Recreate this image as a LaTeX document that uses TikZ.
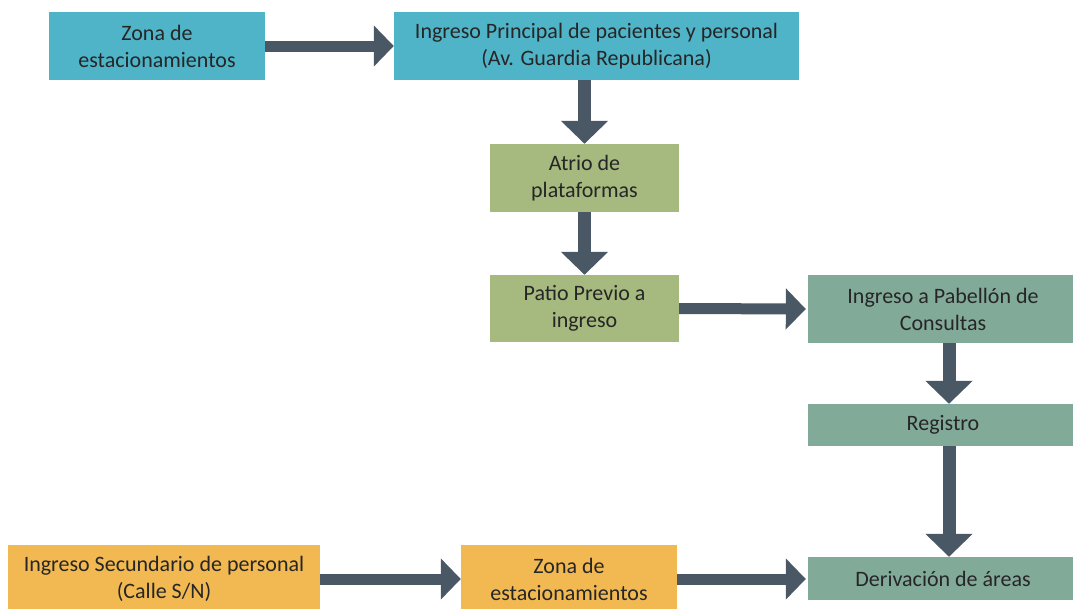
\documentclass[tikz,border=0pt]{standalone}
\usepackage{fontspec}
\setmainfont{Carlito}
\usepackage{tikz}
\usetikzlibrary{positioning, arrows.meta, calc}

\definecolor{cyanbox}{RGB}{79,180,200}
\definecolor{olivebox}{RGB}{166,185,127}
\definecolor{tealbox}{RGB}{130,170,153}
\definecolor{orangebox}{RGB}{242,185,82}
\definecolor{arrowgray}{RGB}{74,88,101}
\definecolor{textgray}{RGB}{38,38,38}

\tikzset{
    box/.style={rectangle, draw=none, align=center, text=textgray,
        font=\fontsize{22}{27}\selectfont, inner sep=0pt},
    flow/.style={draw=arrowgray, line width=11pt,
        -{Triangle[width=40pt, length=20pt]}},
    flowdown/.style={draw=arrowgray, line width=13pt,
        -{Triangle[width=46pt, length=23pt]}}
}

\begin{document}
\begin{tikzpicture}[x=1pt, y=-1pt]
    \useasboundingbox (0,0) rectangle (1073,608);

    % boxes, placed by their centres
    \node[box, fill=cyanbox, minimum width=216, minimum height=68] (zona1) at (157,46) {Zona de\\estacionamientos};
    \node[box, fill=cyanbox, minimum width=405, minimum height=68] (ingreso) at (596.5,46) {Ingreso Principal de pacientes y personal\\(Av. Guardia Republicana)};
    \node[box, fill=olivebox, minimum width=189, minimum height=68] (atrio) at (584.5,178) {Atrio de\\plataformas};
    \node[box, fill=olivebox, minimum width=189, minimum height=67] (patio) at (584.5,308.5) {Patio Previo a\\ingreso};
    \node[box, fill=tealbox, minimum width=270, minimum height=68] (pabellon) at (943,309) {Ingreso a Pabell\'on de\\Consultas};
    \node[box, fill=tealbox, minimum width=270, minimum height=42] (registro) at (943,425) {Registro};
    \node[box, fill=tealbox, minimum width=270, minimum height=43] (derivacion) at (943,578.5) {Derivaci\'on de \'areas};
    \node[box, fill=orangebox, minimum width=312, minimum height=68] (secundario) at (164,579) {Ingreso Secundario de personal\\(Calle S/N)};
    \node[box, fill=orangebox, minimum width=216, minimum height=68] (zona2) at (569,579) {Zona de\\estacionamientos};

    % connectors
    \draw[flow] (zona1.east) -- (ingreso.west);
    \draw[flowdown] (ingreso.south -| atrio) -- (atrio.north);
    \draw[flowdown] (atrio.south) -- (patio.north);
    \draw[flow] (patio.east) -- ([xshift=-2]pabellon.west);
    \draw[flowdown] ([xshift=6]pabellon.south) -- ([xshift=6]registro.north);
    \draw[flowdown] ([xshift=6]registro.south) -- ([xshift=6]derivacion.north);
    \draw[flow] (secundario.east) -- (zona2.west);
    \draw[flow] (zona2.east) -- ([xshift=-2]derivacion.west |- zona2.east);
\end{tikzpicture}
\end{document}
